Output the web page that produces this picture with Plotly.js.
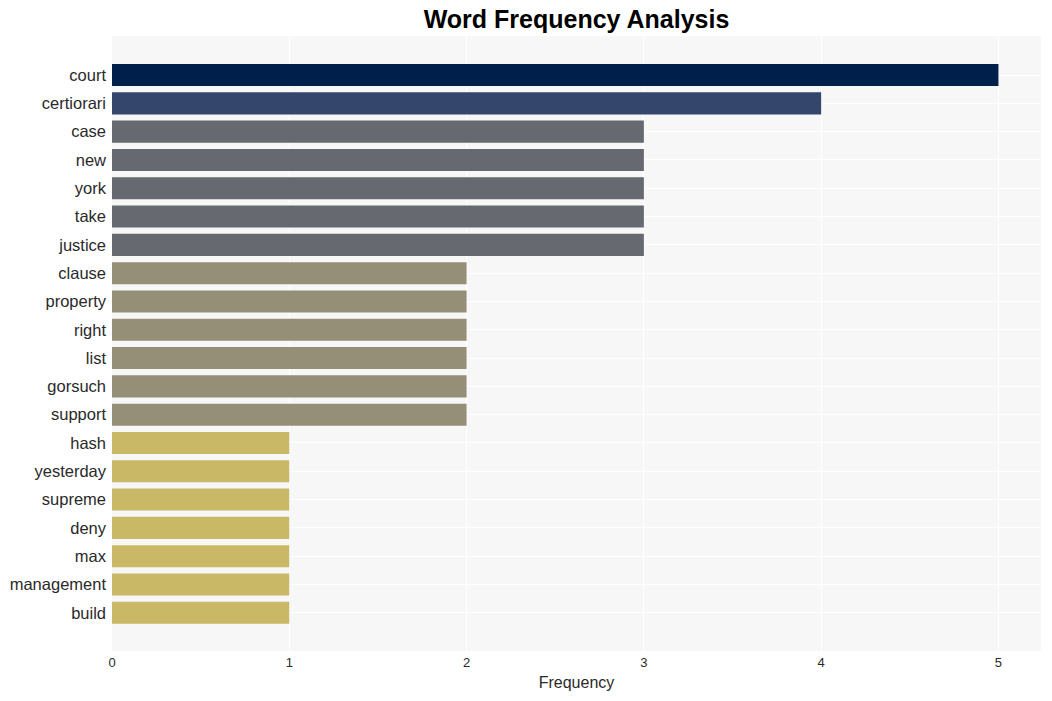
<!DOCTYPE html>
<html>
<head>
<meta charset="utf-8">
<script src="https://cdn.plot.ly/plotly-3.0.1.min.js"></script>
<style>html,body{margin:0;padding:0;background:#fff;}#chart{width:1052px;height:701px;}</style>
</head>
<body>
<div id="chart"></div>
<script>
const words = ["court","certiorari","case","new","york","take","justice","clause","property","right","list","gorsuch","support","hash","yesterday","supreme","deny","max","management","build"];
const counts = [5,4,3,3,3,3,3,2,2,2,2,2,2,1,1,1,1,1,1,1];
const colorByCount = {5:"#00204c",4:"#35466c",3:"#666970",2:"#958f78",1:"#c9b866"};

const trace = {
  type: "bar",
  orientation: "h",
  x: counts,
  y: words,
  marker: {color: counts.map(c => colorByCount[c])},
  hoverinfo: "x+y"
};

const layout = {
  width: 1052, height: 701,
  margin: {l: 112, r: 11, t: 36, b: 50},
  paper_bgcolor: "#ffffff",
  plot_bgcolor: "#f7f7f7",
  font: {family: "Arial, 'Liberation Sans', sans-serif", color: "#2a2a2a"},
  title: {text: "<b>Word Frequency Analysis</b>", x: 0.548, xanchor: "center", y: 0.972, yanchor: "middle", font: {size: 25, color: "#000000", family: "Arial, 'Liberation Sans', sans-serif"}},
  bargap: 0.22,
  xaxis: {
    range: [0, 5.24],
    tickvals: [0,1,2,3,4,5],
    gridcolor: "#ffffff", gridwidth: 1,
    zeroline: false,
    tickfont: {size: 13, color: "#2a2a2a"},
    ticklabelstandoff: 2,
    title: {text: "Frequency", font: {size: 16, color: "#2a2a2a"}, standoff: 7},
    ticks: "", showline: false
  },
  yaxis: {
    autorange: false,
    range: [20.35, -1.38],
    type: "category",
    gridcolor: "#ffffff", gridwidth: 1,
    tickfont: {size: 16.5, color: "#2a2a2a"},
    ticklabelstandoff: 5,
    ticks: "", ticklen: 0, showline: false
  },
  showlegend: false
};

Plotly.newPlot("chart", [trace], layout, {displayModeBar: false});
</script>
</body>
</html>
